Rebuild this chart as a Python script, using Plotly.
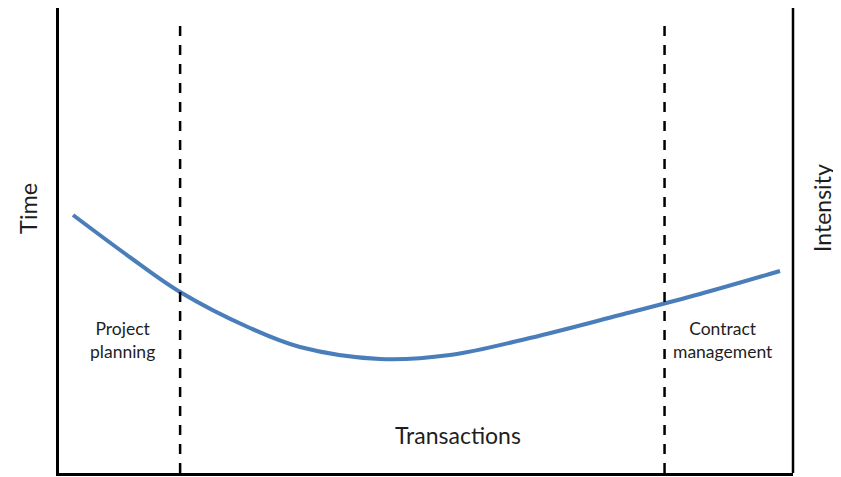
import plotly.graph_objects as go

# Curve (x: position along the project, 0-100; y: relative level, 0-100)
curve_x = [1.91, 9.26, 16.49, 26.02, 32.83, 43.73, 53.27, 64.17, 76.43, 87.33, 98.23]
curve_y = [55.13, 46.58, 38.68, 30.98, 26.92, 24.36, 25.21, 28.85, 33.76, 38.25, 43.16]

# Phase boundaries
boundary_x = [16.5, 82.5]
boundary_top = 96.4

phase_labels = ["Project<br>planning", "Transactions", "Contract<br>management"]
phase_label_x = [8.6, 54.4, 90.5]
phase_label_y = [28.4, 8.1, 28.4]

FONT = "Lato"
TXT = "#1e1e1e"

fig = go.Figure()

fig.add_trace(go.Scatter(
    x=curve_x, y=curve_y, mode="lines",
    line=dict(color="#4a7ebb", width=4, shape="spline", smoothing=1.0),
    hoverinfo="skip", showlegend=False,
))

for bx in boundary_x:
    fig.add_trace(go.Scatter(
        x=[bx, bx], y=[0, boundary_top], mode="lines",
        line=dict(color="black", width=2.5, dash="10px,9px"),
        hoverinfo="skip", showlegend=False,
    ))

for lbl, lx, ly in zip(phase_labels, phase_label_x, phase_label_y):
    big = lbl == "Transactions"
    fig.add_annotation(
        x=lx, y=ly, xref="x", yref="y", text=lbl, showarrow=False,
        xanchor="center", yanchor="middle",
        font=dict(family=FONT, size=23 if big else 17.5, color=TXT),
        align="center",
    )

fig.add_annotation(x=-0.0422, y=0.568, xref="paper", yref="paper", text="Time",
                   showarrow=False, textangle=-90, xanchor="center", yanchor="middle",
                   font=dict(family=FONT, size=23.5, color=TXT))
fig.add_annotation(x=1.0395, y=0.570, xref="paper", yref="paper", text="Intensity",
                   showarrow=False, textangle=-90, xanchor="center", yanchor="middle",
                   font=dict(family=FONT, size=23, color=TXT))

# right-hand vertical axis line
fig.add_shape(type="line", xref="paper", yref="paper", x0=1, x1=1, y0=0, y1=1.0,
              line=dict(color="black", width=2.5))

fig.update_xaxes(range=[0, 100], showline=True, linecolor="black", linewidth=2.5,
                 showgrid=False, zeroline=False, showticklabels=False, ticks="")
fig.update_yaxes(range=[0, 99.36], showline=True, linecolor="black", linewidth=2.5,
                 showgrid=False, zeroline=False, showticklabels=False, ticks="")

fig.update_layout(
    width=833, height=469,
    margin=dict(l=51, r=48, t=0, b=4),
    paper_bgcolor="white", plot_bgcolor="white",
    font=dict(family=FONT),
)

fig.write_html("out.html")
